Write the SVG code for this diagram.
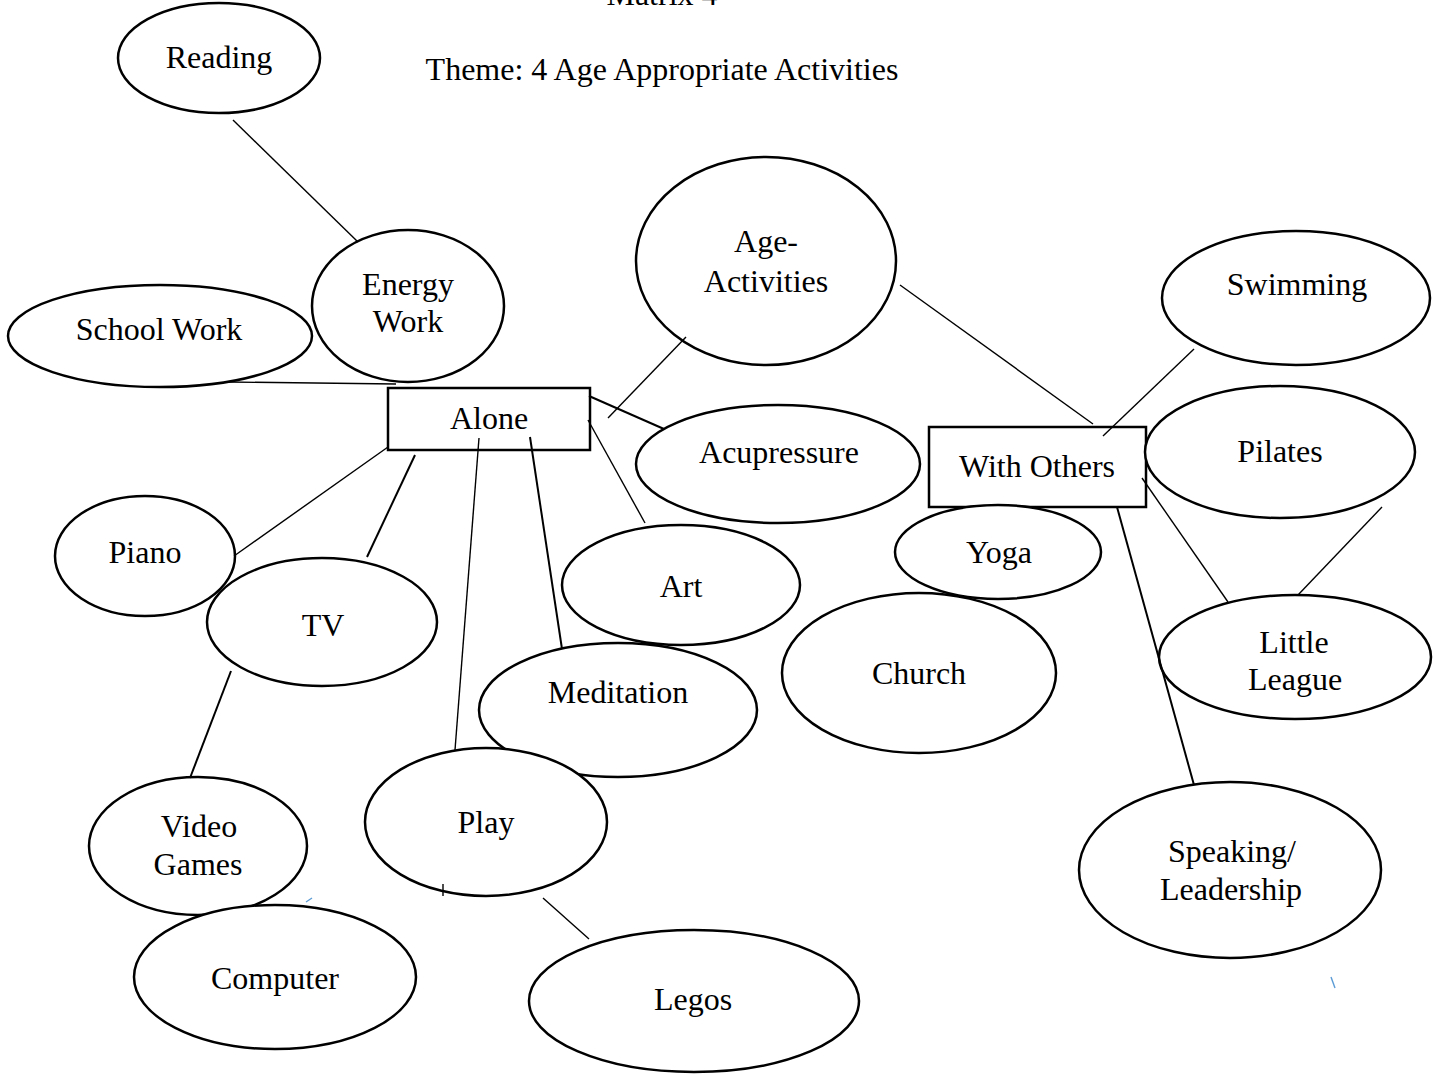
<svg xmlns="http://www.w3.org/2000/svg" width="1442" height="1074" viewBox="0 0 1442 1074">
  <style>
    .bg { fill: #ffffff; }
    .node ellipse, .node rect { fill: #ffffff; stroke: #000000; stroke-width: 2.5; }
    .node text, .title { font-family: "Liberation Serif", "Times New Roman", serif; font-size: 32px; fill: #000000; text-anchor: middle; }
    .edges line { stroke: #000000; stroke-width: 1.4; }
    .edges line.heavy { stroke-width: 2; }
    .edges line.faint { stroke: #5b9bd5; stroke-width: 1.4; }
  </style>
  <rect class="bg" x="0" y="0" width="1442" height="1074"/>

  <!-- Headings -->
  <text class="title" x="662" y="5">Matrix 4</text>
  <text class="title" x="662" y="80">Theme: 4 Age Appropriate Activities</text>

  <!-- Activity nodes -->
  <g id="reading" class="node">
    <ellipse cx="219" cy="58" rx="101" ry="55"/>
    <text x="219" y="68">Reading</text>
  </g>
  <g id="school-work" class="node">
    <ellipse cx="160" cy="336" rx="152" ry="51"/>
    <text x="159" y="340">School Work</text>
  </g>
  <g id="energy-work" class="node">
    <ellipse cx="408" cy="306" rx="96" ry="76"/>
    <text x="408" y="295">Energy</text>
    <text x="408" y="332">Work</text>
  </g>
  <g id="alone" class="node">
    <rect x="388" y="388" width="202" height="62"/>
    <text x="489" y="429">Alone</text>
  </g>
  <g id="age-activities" class="node">
    <ellipse cx="766" cy="261" rx="130" ry="104"/>
    <text x="766" y="252">Age-</text>
    <text x="766" y="292">Activities</text>
  </g>
  <g id="acupressure" class="node">
    <ellipse cx="778" cy="464" rx="142" ry="59"/>
    <text x="779" y="463">Acupressure</text>
  </g>
  <g id="with-others" class="node">
    <rect x="929" y="427" width="217" height="80"/>
    <text x="1037" y="477">With Others</text>
  </g>
  <g id="swimming" class="node">
    <ellipse cx="1296" cy="298" rx="134" ry="67"/>
    <text x="1297" y="295">Swimming</text>
  </g>
  <g id="pilates" class="node">
    <ellipse cx="1280" cy="452" rx="135" ry="66"/>
    <text x="1280" y="462">Pilates</text>
  </g>
  <g id="little-league" class="node">
    <ellipse cx="1295" cy="657" rx="136" ry="62"/>
    <text x="1294" y="653">Little</text>
    <text x="1295" y="690">League</text>
  </g>
  <g id="piano" class="node">
    <ellipse cx="145" cy="556" rx="90" ry="60"/>
    <text x="145" y="563">Piano</text>
  </g>
  <g id="tv" class="node">
    <ellipse cx="322" cy="622" rx="115" ry="64"/>
    <text x="323" y="636">TV</text>
  </g>
  <g id="art" class="node">
    <ellipse cx="681" cy="585" rx="119" ry="60"/>
    <text x="681" y="597">Art</text>
  </g>
  <g id="yoga" class="node">
    <ellipse cx="998" cy="552" rx="103" ry="47"/>
    <text x="999" y="563">Yoga</text>
  </g>
  <g id="church" class="node">
    <ellipse cx="919" cy="673" rx="137" ry="80"/>
    <text x="919" y="684">Church</text>
  </g>
  <g id="meditation" class="node">
    <ellipse cx="618" cy="710" rx="139" ry="67"/>
    <text x="618" y="703">Meditation</text>
  </g>
  <g id="play" class="node">
    <ellipse cx="486" cy="822" rx="121" ry="74"/>
    <text x="486" y="833">Play</text>
  </g>
  <g id="video-games" class="node">
    <ellipse cx="198" cy="846" rx="109" ry="69"/>
    <text x="199" y="837">Video</text>
    <text x="198" y="875">Games</text>
  </g>
  <g id="computer" class="node">
    <ellipse cx="275" cy="977" rx="141" ry="72"/>
    <text x="275" y="989">Computer</text>
  </g>
  <g id="legos" class="node">
    <ellipse cx="694" cy="1001" rx="165" ry="71"/>
    <text x="693" y="1010">Legos</text>
  </g>
  <g id="speaking-leadership" class="node">
    <ellipse cx="1230" cy="870" rx="151" ry="88"/>
    <text x="1232" y="862">Speaking/</text>
    <text x="1231" y="900">Leadership</text>
  </g>

  <!-- Connectors -->
  <g id="connectors" class="edges">
    <line x1="233" y1="120" x2="358" y2="242"/>
    <line x1="228" y1="382" x2="396" y2="384"/>
    <line x1="388" y1="447" x2="234" y2="556"/>
    <line class="heavy" x1="415" y1="455" x2="367" y2="557"/>
    <line x1="479" y1="438" x2="455" y2="750"/>
    <line class="heavy" x1="530" y1="437" x2="562" y2="649"/>
    <line x1="588" y1="420" x2="645" y2="523"/>
    <line class="heavy" x1="589" y1="396" x2="664" y2="429"/>
    <line x1="686" y1="337" x2="608" y2="418"/>
    <line x1="900" y1="285" x2="1093" y2="424"/>
    <line x1="1194" y1="349" x2="1103" y2="436"/>
    <line x1="1142" y1="478" x2="1228" y2="602"/>
    <line x1="1382" y1="507" x2="1298" y2="595"/>
    <line class="heavy" x1="1117" y1="507" x2="1194" y2="785"/>
    <line class="heavy" x1="231" y1="671" x2="190" y2="778"/>
    <line x1="543" y1="898" x2="589" y2="939"/>
    <line x1="443" y1="884" x2="443" y2="896"/>
    <line class="faint" x1="306" y1="902" x2="312" y2="898"/>
    <line class="faint" x1="1331" y1="977" x2="1335" y2="988"/>
  </g>
</svg>
